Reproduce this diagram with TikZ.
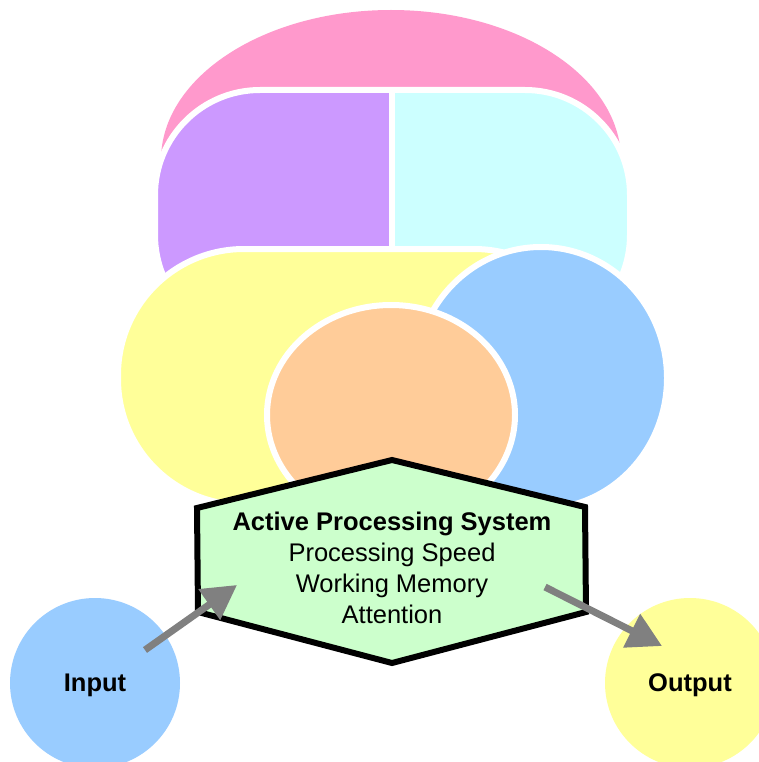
\documentclass[tikz,border=0pt]{standalone}
\usepackage{fontspec}
\setmainfont{Liberation Sans}
\usetikzlibrary{shapes.geometric,arrows.meta}
\definecolor{rosy}{HTML}{FF99CC}
\definecolor{lilac}{HTML}{CC99FF}
\definecolor{icy}{HTML}{CCFFFF}
\definecolor{lemon}{HTML}{FFFF99}
\definecolor{sky}{HTML}{99CCFF}
\definecolor{peach}{HTML}{FFCC99}
\definecolor{mint}{HTML}{CCFFCC}
\definecolor{steel}{HTML}{808080}

\begin{document}
\begin{tikzpicture}[
  x=1pt, y=-1pt,
  blob/.style={draw=white, line width=6pt},
  ball/.style={circle, inner sep=0pt, minimum size=170pt, text depth=0pt,
    font=\bfseries\fontsize{25.5}{31}\selectfont},
  flow/.style={draw=steel, line width=7pt,
    -{Triangle[length=34pt, width=36pt]}}
]
\useasboundingbox (0,0) rectangle (759,762);
\clip (0,0) rectangle (759,762);
\fill[white] (0,0) rectangle (759,762);

\node[ellipse, fill=rosy, minimum width=460pt, minimum height=300pt] (dome) at (391,160) {};

\begin{scope}
  \clip (100,0) rectangle (392,400);
  \fill[lilac, rounded corners=105pt] (155,90) rectangle (630,340);
\end{scope}
\begin{scope}
  \clip (392,0) rectangle (700,400);
  \fill[icy, rounded corners=105pt] (155,90) rectangle (630,340);
\end{scope}
\draw[blob, rounded corners=105pt] (155,90) rectangle (630,340);
\draw[white, line width=6pt] (392,90) -- (392,340);

\draw[blob, fill=lemon, rounded corners=126pt] (118,249) rectangle (600,505);
\node[blob, ellipse, fill=sky, minimum width=252pt, minimum height=262pt] (disc) at (541,378) {};
\node[blob, ellipse, fill=peach, minimum width=248pt, minimum height=220pt] (core) at (391,415) {};

\draw[line width=6pt, fill=mint, line join=miter]
  (392,460) -- (585,507) -- (586,612) -- (392,663) -- (198,612) -- (197,508) -- cycle;
\node[align=center, font=\fontsize{25.5}{31}\selectfont] (aps) at (392,568)
  {\textbf{Active Processing System}\\Processing Speed\\Working Memory\\Attention};

\node[ball, fill=sky] (input) at (95,683) {Input};
\node[ball, fill=lemon] (output) at (690,683) {Output};

\coordinate (intail) at (145,650);
\coordinate (inhead) at (237,585);
\coordinate (outtail) at (545,587);
\coordinate (outhead) at (662,646);
\draw[flow] (intail) -- (inhead);
\draw[flow] (outtail) -- (outhead);
\end{tikzpicture}
\end{document}
